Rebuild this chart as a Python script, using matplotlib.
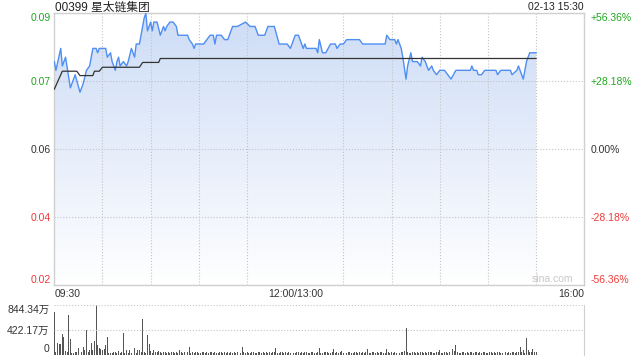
import numpy as np
import matplotlib
matplotlib.use('Agg')
import matplotlib.pyplot as plt
from matplotlib.colors import LinearSegmentedColormap
from matplotlib.patches import Polygon

plt.rcParams['font.family'] = ['Liberation Sans', 'Noto Sans CJK SC']

title = '00399 星太链集团'
stamp = '02-13 15:30'

# 价格轴: 昨收 0.055, 上下 ±56.36%
price_lo, price_hi = 0.024, 0.086
price_ticks = [0.086, 0.0705, 0.055, 0.0395, 0.024]
price_labels = ['0.09', '0.07', '0.06', '0.04', '0.02']
pct_ticks = [56.36, 28.18, 0.0, -28.18, -56.36]
pct_labels = ['+56.36%', '+28.18%', '0.00%', '-28.18%', '-56.36%']
tick_colors = ['#1fa81f', '#1fa81f', '#333333', '#f03a3a', '#f03a3a']

# 时间轴 (分钟, 午休压缩): 09:30 -> 0, 12:00/13:00 -> 150, 16:00 -> 330
time_ticks = [0, 150, 330]
time_labels = ['09:30', '12:00/13:00', '16:00']
grid_minutes = [30, 60, 90, 120, 150, 180, 210, 240, 270, 300]

# 分时价格 (分钟, 价格)
price_min = [0, 1, 4, 5, 7, 10, 13, 16, 18, 20, 22, 24, 26, 27, 28, 32, 33, 35, 36, 38,
             39, 40, 41, 43, 45, 46, 48, 50, 51, 53, 55, 56, 57, 58, 60, 61, 62, 64, 66, 68,
             69, 70, 72, 74, 76, 77, 83, 84, 86, 87, 88, 93, 95, 97, 99, 100, 101, 104, 106, 108,
             111, 114, 119, 122, 125, 127, 131, 133, 137, 140, 145, 147, 148, 150, 152, 155, 156, 157, 163, 164,
             165, 167, 169, 172, 174, 175, 176, 178, 180, 182, 190, 192, 206, 207, 209, 212, 213, 214, 216, 217,
             219, 220, 222, 223, 226, 228, 229, 231, 233, 235, 236, 238, 240, 243, 245, 247, 250, 259, 260, 261,
             263, 264, 266, 268, 275, 276, 278, 284, 285, 288, 289, 292, 294, 296, 300]
price_val = [0.075, 0.073, 0.078, 0.074, 0.076, 0.069, 0.072, 0.068, 0.070, 0.073, 0.074, 0.078, 0.078, 0.077, 0.078, 0.078, 0.076, 0.077, 0.075, 0.073,
             0.075, 0.076, 0.074, 0.075, 0.074, 0.075, 0.078, 0.076, 0.079, 0.079, 0.083, 0.085, 0.086, 0.082, 0.084, 0.082, 0.084, 0.084, 0.081, 0.083,
             0.082, 0.083, 0.084, 0.084, 0.083, 0.081, 0.081, 0.080, 0.079, 0.078, 0.079, 0.079, 0.080, 0.081, 0.081, 0.079, 0.081, 0.081, 0.080, 0.080,
             0.083, 0.083, 0.084, 0.083, 0.083, 0.081, 0.081, 0.083, 0.083, 0.079, 0.079, 0.078, 0.079, 0.081, 0.081, 0.078, 0.079, 0.078, 0.078, 0.077,
             0.080, 0.077, 0.077, 0.079, 0.079, 0.079, 0.078, 0.079, 0.079, 0.080, 0.080, 0.079, 0.079, 0.081, 0.080, 0.080, 0.079, 0.080, 0.078, 0.076,
             0.071, 0.074, 0.077, 0.075, 0.075, 0.074, 0.076, 0.075, 0.073, 0.074, 0.073, 0.072, 0.073, 0.073, 0.072, 0.071, 0.073, 0.073, 0.074, 0.073,
             0.073, 0.072, 0.072, 0.073, 0.073, 0.072, 0.073, 0.073, 0.072, 0.073, 0.074, 0.071, 0.075, 0.077, 0.077]

# 均价线
avg_min = [0, 5, 14, 16, 24, 25, 28, 30, 53, 55, 65, 66, 300]
avg_val = [0.0687, 0.0728, 0.0728, 0.0718, 0.0718, 0.0728, 0.0728, 0.0737, 0.0737, 0.0748, 0.0748, 0.0757, 0.0757]

# 成交量 (万), 每分钟一根
vol_max = 844.34
volume = [720, 40, 190, 185, 185, 345, 305, 60, 50, 680,
          260, 30, 25, 45, 40, 115, 115, 45, 130, 70,
          415, 35, 70, 190, 70, 230, 844.34, 160, 105, 90,
          70, 90, 155, 290, 30, 25, 20, 35, 45, 30,
          55, 25, 45, 365, 30, 70, 30, 85, 25, 45,
          105, 30, 70, 70, 40, 610, 45, 25, 330, 175,
          60, 30, 70, 45, 35, 55, 40, 30, 50, 35,
          25, 40, 30, 45, 35, 30, 50, 25, 85, 35,
          30, 40, 25, 35, 130, 30, 45, 25, 35, 40,
          30, 25, 45, 35, 30, 50, 25, 40, 35, 30,
          45, 30, 25, 40, 35, 30, 45, 25, 35, 30,
          40, 25, 35, 30, 45, 30, 25, 130, 35, 30,
          40, 25, 30, 45, 35, 25, 30, 40, 35, 25,
          45, 30, 35, 25, 40, 30, 45, 35, 105, 30,
          25, 40, 35, 30, 45, 25, 35, 30, 40, 25,
          30, 45, 35, 25, 40, 30, 35, 45, 25, 30,
          40, 35, 25, 30, 45, 116, 30, 25, 40, 35,
          45, 30, 25, 35, 98, 30, 40, 25, 35, 60,
          30, 45, 25, 35, 40, 30, 25, 45, 35, 30,
          40, 25, 35, 30, 45, 98, 30, 25, 40, 35,
          30, 45, 25, 35, 40, 30, 25, 98, 35, 30,
          40, 25, 35, 30, 45, 30, 40, 35, 60, 446,
          45, 30, 25, 40, 35, 30, 45, 25, 35, 50,
          30, 40, 25, 35, 45, 50, 30, 25, 40, 35,
          80, 30, 25, 45, 35, 30, 40, 25, 98, 60,
          156, 35, 30, 25, 40, 45, 30, 35, 25, 40,
          50, 30, 45, 35, 25, 40, 30, 35, 45, 25,
          30, 40, 35, 25, 45, 30, 35, 40, 25, 30,
          45, 35, 25, 40, 30, 50, 35, 25, 40, 45,
          127, 40, 80, 30, 278, 80, 35, 45, 98, 40,
          35]
vol_ticks = [0, 422.17, 844.34]
vol_labels = ['0', '422.17万', '844.34万']

W, H = 640, 360
fig = plt.figure(figsize=(6.4, 3.6), dpi=100)
ax = fig.add_axes([54.3 / W, 1 - 285.3 / H, 530 / W, 272 / H])

# 渐变填充
cmap = LinearSegmentedColormap.from_list('fill', ['#ffffff', '#cddcf6'])
grad = np.linspace(0, 1, 256).reshape(-1, 1)
verts = list(zip(price_min, price_val)) + [(price_min[-1], price_lo), (price_min[0], price_lo)]
poly = Polygon(verts, closed=True, facecolor='none', edgecolor='none', transform=ax.transData)
ax.add_patch(poly)
im = ax.imshow(grad, extent=[0, 330, price_lo, price_hi], aspect='auto', cmap=cmap,
               origin='lower', zorder=0.5, interpolation='bilinear')
im.set_clip_path(poly)

ax.plot(price_min, price_val, color='#4f8ef2', lw=1.0, zorder=3)
ax.plot(avg_min, avg_val, color='#333333', lw=0.9, zorder=3)

ax.set_xlim(0, 330)
ax.set_ylim(price_lo, price_hi)
ax.set_yticks(price_ticks)
ax.set_yticklabels(price_labels)
ax.get_yticklabels()[0].set_va('top')
ax.get_yticklabels()[-1].set_va('bottom')
ax.set_xticks(time_ticks)
ax.set_xticklabels(time_labels)
ax.get_xticklabels()[0].set_ha('left')
ax.get_xticklabels()[-1].set_ha('right')
ax.set_xticks(grid_minutes, minor=True)
ax.tick_params(which='both', length=0, labelsize=7.5, colors='#333333')
ax.tick_params(axis='y', pad=2.5)
ax.tick_params(axis='x', pad=3)
for lab, c in zip(ax.get_yticklabels(), tick_colors):
    lab.set_color(c)
ax.grid(which='minor', axis='x', color='#c4c4c4', linestyle=':', lw=0.8)
ax.grid(which='major', axis='y', color='#c4c4c4', linestyle=':', lw=0.8)
for s in ax.spines.values():
    s.set_color('#d0d0d0')
    s.set_linewidth(1.0)

ax2 = ax.twinx()
ax2.set_ylim(-56.36, 56.36)
ax2.set_yticks(pct_ticks)
ax2.set_yticklabels(pct_labels)
ax2.tick_params(length=0, labelsize=7.5, pad=4.5)
for lab, c in zip(ax2.get_yticklabels(), tick_colors):
    lab.set_color(c)
ax2.get_yticklabels()[0].set_va('top')
ax2.get_yticklabels()[-1].set_va('bottom')
for s in ax2.spines.values():
    s.set_visible(False)

ax.text(0.979, 0.025, 'sina.com', transform=ax.transAxes, ha='right', va='center',
        fontsize=7.5, color='#c8c8c8')

fig.text(55 / W, 1 - 7.5 / H, title, ha='left', va='center', fontsize=8.5, color='#222222')
fig.text(584 / W, 1 - 7.5 / H, stamp, ha='right', va='center', fontsize=7.5, color='#222222')

# 成交量
vax = fig.add_axes([54.3 / W, 1 - 354.5 / H, 530 / W, 49.5 / H])
vax.bar(np.arange(len(volume)), volume, width=0.6, color='#555555')
vax.set_xlim(0, 330)
vax.set_ylim(0, vol_max)
vax.set_xticks([])
vax.set_yticks(vol_ticks)
vax.set_yticklabels(vol_labels)
vax.get_yticklabels()[0].set_va('bottom')
vax.get_yticklabels()[-1].set_va('top')
vax.tick_params(length=0, labelsize=7.5, colors='#333333', pad=3.5)
vax.grid(axis='y', color='#c4c4c4', linestyle=':', lw=0.8)
for name, s in vax.spines.items():
    s.set_visible(name == 'right')
    s.set_color('#d0d0d0')

fig.savefig('out.png', dpi=100)
